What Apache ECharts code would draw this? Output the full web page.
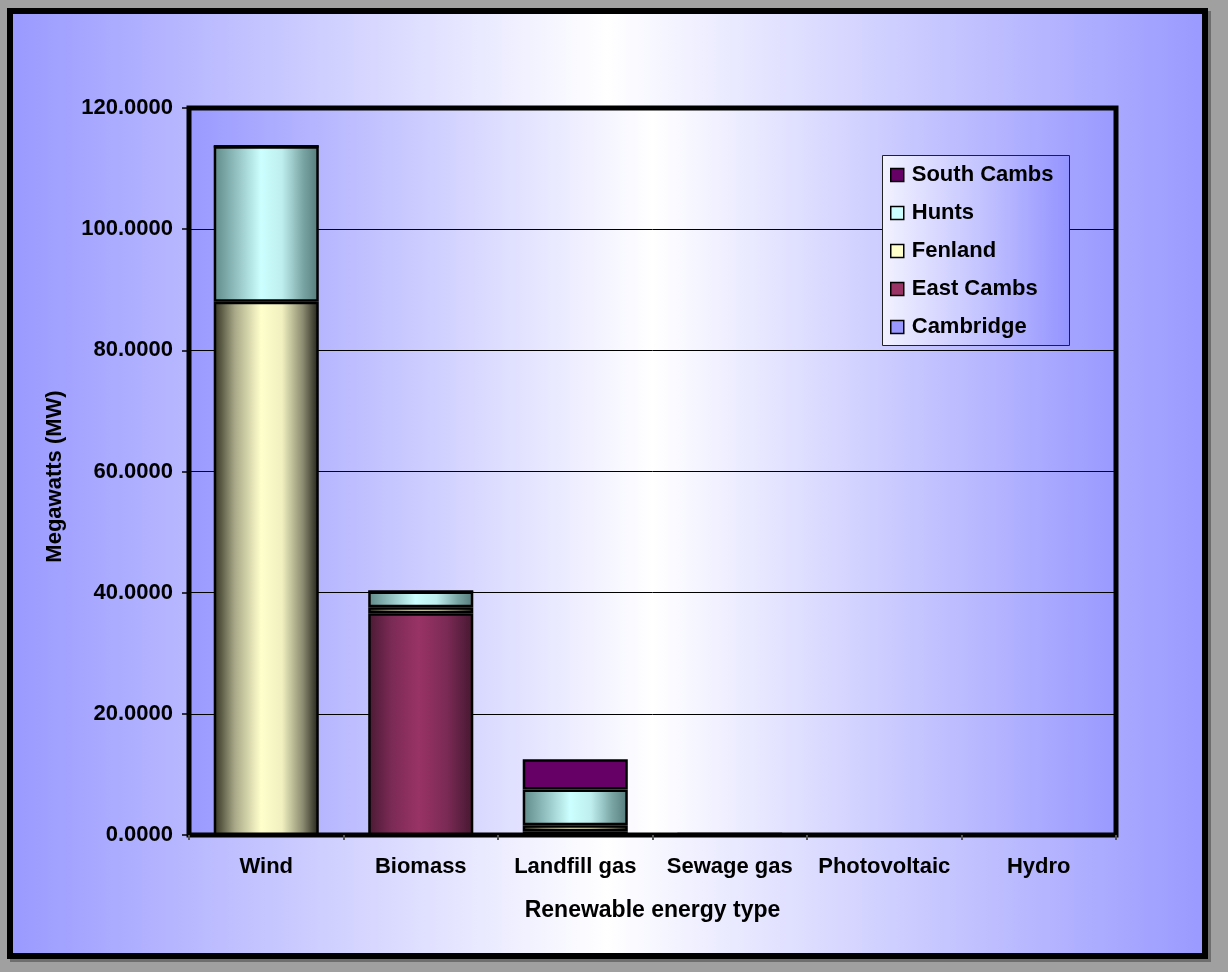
<!DOCTYPE html>
<html>
<head>
<meta charset="utf-8">
<script src="https://cdn.jsdelivr.net/npm/echarts@6/dist/echarts.min.js"></script>
<style>
  html, body { margin: 0; padding: 0; background: #a0a0a0; }
  #chart { width: 1228px; height: 972px; }
</style>
</head>
<body>
<div id="chart"></div>
<script>
// Installed renewable capacity (MW) by energy type and district
const categories = ['Wind', 'Biomass', 'Landfill gas', 'Sewage gas', 'Photovoltaic', 'Hydro'];
const cambridge  = [0,    0,    0,   0,    0, 0];
const eastCambs  = [0,    36.6, 0.6, 0,    0, 0];
const fenland    = [88.0, 1.0,  1.0, 0.05, 0, 0];
const hunts      = [25.7, 2.6,  5.9, 0.1,  0, 0];
const southCambs = [0,    0,    5.0, 0.05, 0, 0];

const FONT = '"Liberation Sans", Arial, sans-serif';

function hGrad(stops) {
  return {
    type: 'linear', x: 0, y: 0, x2: 1, y2: 0,
    colorStops: stops.map(s => ({ offset: s[0], color: s[1] }))
  };
}

const blueWhiteBlue = () => hGrad([[0, '#9999ff'], [0.5, '#ffffff'], [1, '#9999ff']]);

const fills = {
  'Cambridge': hGrad([[0, '#5c5c99'], [0.45, '#9999ff'], [1, '#5c5c99']]),
  'East Cambs': hGrad([[0, '#4a1a33'], [0.22, '#7a2a55'], [0.48, '#993366'], [0.75, '#7a2a55'], [1, '#451830']]),
  'Fenland': hGrad([[0, '#303020'], [0.2, '#a8a888'], [0.45, '#ffffcc'], [0.65, '#f0f0c0'], [0.85, '#8a8a70'], [1, '#202018']]),
  'Hunts': hGrad([[0, '#5f8a8a'], [0.2, '#8fbcbc'], [0.45, '#ccffff'], [0.65, '#bfeeee'], [0.85, '#7aa5a5'], [1, '#557a7a']]),
  'South Cambs': '#660066'
};
const legendColors = {
  'South Cambs': '#660066',
  'Hunts': '#ccffff',
  'Fenland': '#ffffcc',
  'East Cambs': '#993366',
  'Cambridge': '#9999ff'
};

const seriesData = [
  ['Cambridge', cambridge],
  ['East Cambs', eastCambs],
  ['Fenland', fenland],
  ['Hunts', hunts],
  ['South Cambs', southCambs]
];

const chart = echarts.init(document.getElementById('chart'), null, { renderer: 'canvas' });

chart.setOption({
  backgroundColor: '#a0a0a0',
  animation: false,
  graphic: [
    {
      // drop shadow of the outer frame
      type: 'rect', z: -11, silent: true,
      shape: { x: 13, y: 14, width: 1195, height: 945 },
      style: { fill: 'none', stroke: '#6e6e6e', lineWidth: 6 }
    },
    {
      type: 'rect', z: -10, silent: true,
      shape: { x: 10, y: 11, width: 1195, height: 945 },
      style: { fill: blueWhiteBlue(), stroke: '#000', lineWidth: 6 }
    },
    {
      type: 'rect', z: 3, silent: true,
      shape: { x: 882.5, y: 155.5, width: 187, height: 190 },
      style: {
        fill: hGrad([[0, '#f2f2ff'], [0.5, '#c6c6ff'], [1, '#9393ff']]),
        stroke: '#222222', lineWidth: 1
      }
    }
  ],
  grid: {
    left: 189, right: 112, top: 108, bottom: 137,
    show: true,
    backgroundColor: blueWhiteBlue(),
    borderColor: '#000', borderWidth: 5
  },
  legend: {
    orient: 'vertical',
    left: 882, top: 156,
    padding: [8, 8, 8, 8],
    itemGap: 16,
    itemWidth: 13, itemHeight: 13,
    icon: 'rect',
    z: 4,
    textStyle: { fontFamily: FONT, fontWeight: 'bold', fontSize: 22, color: '#000', lineHeight: 22, padding: [0, 0, 0, 3] },
    data: ['South Cambs', 'Hunts', 'Fenland', 'East Cambs', 'Cambridge'].map(n => ({
      name: n,
      itemStyle: { color: legendColors[n], borderColor: '#000', borderWidth: 1.5 }
    }))
  },
  xAxis: {
    type: 'category',
    data: categories,
    name: 'Renewable energy type',
    nameLocation: 'middle',
    nameGap: 64,
    nameTextStyle: { fontFamily: FONT, fontWeight: 'bold', fontSize: 23, color: '#000' },
    axisLine: { show: false },
    axisTick: { show: true, length: 5, lineStyle: { color: '#555', width: 2 } },
    axisLabel: { interval: 0, fontFamily: FONT, fontWeight: 'bold', fontSize: 22, color: '#000', margin: 21 }
  },
  yAxis: {
    type: 'value',
    min: 0, max: 120, interval: 20,
    name: 'Megawatts (MW)',
    nameLocation: 'middle',
    nameGap: 123,
    nameTextStyle: { fontFamily: FONT, fontWeight: 'bold', fontSize: 22, color: '#000', padding: [0, 10, 0, 0] },
    axisLine: { show: false },
    axisTick: { show: true, length: 7, lineStyle: { color: '#000', width: 1.5 } },
    axisLabel: {
      fontFamily: FONT, fontWeight: 'bold', fontSize: 22, color: '#000', margin: 16,
      formatter: v => v.toFixed(4)
    },
    splitLine: { show: true, lineStyle: { color: '#000', width: 1 } }
  },
  series: seriesData.map(([name, values]) => ({
    name,
    type: 'bar',
    stack: 'total',
    barWidth: '68%',
    data: values,
    itemStyle: { color: fills[name], borderColor: '#000', borderWidth: 2.5 },
    emphasis: { disabled: true }
  }))
});
</script>
</body>
</html>
